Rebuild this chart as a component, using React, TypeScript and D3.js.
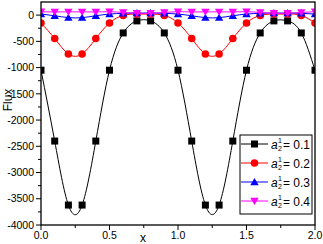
import React from 'react';
import * as d3 from 'd3';

// x positions of the markers
const xs = [0, 0.1, 0.2, 0.3, 0.4, 0.5, 0.6, 0.7, 0.8, 0.9, 1.0, 1.1, 1.2, 1.3, 1.4, 1.5, 1.6, 1.7, 1.8, 1.9, 2.0];

const flux01 = [-1050, -2400, -3620, -3620, -2400, -1050, -340, -110, -110, -340, -1050, -2400, -3620, -3620, -2400, -1050, -340, -110, -110, -340, -1050];
const flux02 = [-150, -447, -740, -740, -447, -150, -5, 20, 20, -5, -150, -447, -740, -740, -447, -150, -5, 20, 20, -5, -150];
const flux03 = [20, -12, -48, -48, -12, 20, 35, 40, 40, 35, 20, -12, -48, -48, -12, 20, 35, 40, 40, 35, 20];
const flux04 = [65, 60, 62, 62, 60, 65, 50, 35, 35, 50, 65, 60, 62, 62, 60, 65, 50, 35, 35, 50, 65];

const seriesLabels = ['0.1', '0.2', '0.3', '0.4'];
const xTicks = [0, 0.5, 1.0, 1.5, 2.0];
const yTicks = [0, -500, -1000, -1500, -2000, -2500, -3000, -3500, -4000];

const colors = ['#000000', '#ff0000', '#0000ff', '#ff00ff'];
const shapes = ['square', 'circle', 'triangle', 'triangleDown'];

const W = 323;
const H = 244;
const margin = { top: 2, right: 8, bottom: 19, left: 41 };
const font = 'Arial, "Liberation Sans", sans-serif';

function Marker({ shape, x, y, color }: { shape: string; x: number; y: number; color: string }) {
  if (shape === 'square') return <rect x={x - 3.5} y={y - 3.5} width={7} height={7} fill={color} />;
  if (shape === 'circle') return <circle cx={x} cy={y} r={3.8} fill={color} />;
  const s = shape === 'triangle' ? 1 : -1;
  const pts = `${x},${y - 4 * s} ${x - 4.2},${y + 3.2 * s} ${x + 4.2},${y + 3.2 * s}`;
  return <polygon points={pts} fill={color} />;
}

export default function App() {
  const all = [flux01, flux02, flux03, flux04];
  const x = d3.scaleLinear().domain([0, 2]).range([margin.left, W - margin.right]);
  const y = d3.scaleLinear().domain([-4000, 250]).range([H - margin.bottom, margin.top]);

  const line = d3.line<[number, number]>()
    .x((d) => x(d[0]))
    .y((d) => y(d[1]))
    .curve(d3.curveNatural);

  const xMinor = d3.range(0, 2.001, 0.25);
  const yMinor = d3.range(-4000, 1, 250);

  const x0 = margin.left;
  const x1 = W - margin.right;
  const y0 = H - margin.bottom;
  const y1 = margin.top;

  const legX = 240;
  const legY = 135;

  return (
    <svg width={W} height={H} style={{ position: 'absolute', left: 0, top: 0, background: '#fff' }} fontFamily={font}>
      <defs>
        <clipPath id="plot">
          <rect x={x0} y={y1} width={x1 - x0} height={y0 - y1} />
        </clipPath>
      </defs>

      <g clipPath="url(#plot)">
        {all.map((vals, i) => {
          const pts = vals.map((v, j) => [xs[j], v] as [number, number]);
          return (
            <g key={i}>
              <path d={line(pts) || ''} fill="none" stroke={colors[i]} strokeWidth={1} />
              {pts.map((p, j) => (
                <Marker key={j} shape={shapes[i]} x={x(p[0])} y={y(p[1])} color={colors[i]} />
              ))}
            </g>
          );
        })}
      </g>

      {/* frame */}
      <rect x={x0} y={y1} width={x1 - x0} height={y0 - y1} fill="none" stroke="#000" strokeWidth={1.3} />

      {/* x axis */}
      {xMinor.map((t, i) => (
        <line key={i} x1={x(t)} x2={x(t)} y1={y0} y2={y0 + (i % 2 === 0 ? 5 : 3)} stroke="#000" />
      ))}
      {xTicks.map((t) => (
        <text key={t} x={x(t)} y={y0 + 14} fontSize={10.5} textAnchor="middle" fill="#000">{t.toFixed(1)}</text>
      ))}
      <text x={143} y={242} fontSize={12} textAnchor="middle" fill="#000">x</text>

      {/* y axis */}
      {yMinor.map((t, i) => (
        <line key={i} x1={x0} x2={x0 - (i % 2 === 0 ? 5 : 3)} y1={y(t)} y2={y(t)} stroke="#000" />
      ))}
      {yTicks.map((t) => (
        <text key={t} x={x0 - 7} y={y(t) + 3.7} fontSize={10.5} textAnchor="end" fill="#000">{t}</text>
      ))}
      <text transform="translate(12,100) rotate(-90)" fontSize={12} textAnchor="middle" fill="#000">Flux</text>

      {/* legend */}
      <rect x={legX} y={legY} width={72} height={79} fill="#fff" stroke="#000" strokeWidth={1} />
      {seriesLabels.map((lab, i) => {
        const ly = legY + 9 + i * 19;
        return (
          <g key={lab}>
            <line x1={legX + 1} x2={legX + 28} y1={ly} y2={ly} stroke={colors[i]} />
            <Marker shape={shapes[i]} x={legX + 14.5} y={ly} color={colors[i]} />
            <text x={legX + 31} y={ly + 4.5} fontSize={12} fill="#000">
              <tspan fontStyle="italic">a</tspan>
            </text>
            <text x={legX + 38} y={ly - 1} fontSize={7} fill="#000">1</text>
            <text x={legX + 38} y={ly + 7} fontSize={7} fill="#000">2</text>
            <text x={legX + 43} y={ly + 4.5} fontSize={12} fill="#000">= {lab}</text>
          </g>
        );
      })}
    </svg>
  );
}
